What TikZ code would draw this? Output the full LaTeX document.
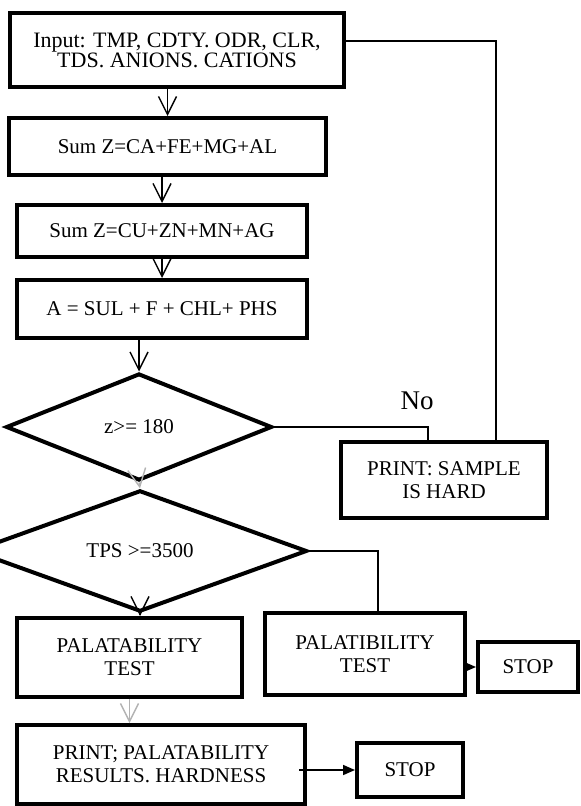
\documentclass[tikz,border=0pt]{standalone}
\usepackage{fontspec}
\setmainfont{Liberation Serif}
\usetikzlibrary{arrows.meta, positioning, shapes.geometric, calc}

\begin{document}
\begin{tikzpicture}[
  x=0.5pt, y=-0.5pt,
  box/.style={rectangle, draw=black, line width=2pt, fill=white, align=center,
              inner sep=2pt, font=\fontsize{10.5}{11.5}\selectfont},
  decision/.style={diamond, draw=black, line width=2pt, fill=white, inner sep=0pt,
              font=\fontsize{10.5}{12}\selectfont},
  arrow/.style={-{Straight Barb[length=9pt, width=9pt]}, line width=0.7pt},
  fadearrow/.style={arrow, draw=black!30},
  stoparrow/.style={-{Triangle[length=6pt, width=5pt]}, line width=0.8pt},
  link/.style={line width=0.7pt}
]
\clip (0,0) rectangle (580,806);
\node[box, minimum width=167pt, minimum height=37pt, font=\fontsize{11}{10}\selectfont] (input) at (177,50)
  {Input: TMP, CDTY. ODR, CLR,\\TDS. ANIONS. CATIONS};
\node[box, minimum width=158.5pt, minimum height=28.5pt] (sum1) at (167.5,146.5) {Sum Z=CA+FE+MG+AL};
\node[box, minimum width=145pt, minimum height=26pt] (sum2) at (162,231) {Sum Z=CU+ZN+MN+AG};
\node[box, minimum width=145pt, minimum height=29pt] (aeq) at (162,309) {A = SUL + F + CHL+ PHS};
\node[decision, minimum width=133pt, minimum height=53.5pt] (dec1) at (139,427) {z>= 180};
\node[box, minimum width=103pt, minimum height=38pt] (hard) at (444,480) {PRINT: SAMPLE\\IS HARD};
\node[decision, minimum width=167pt, minimum height=52.5pt] (dec2) at (140,551) {TPS >=3500};
\node[box, minimum width=112.5pt, minimum height=39.5pt] (pal1) at (129.5,657.5) {PALATABILITY\\TEST};
\node[box, minimum width=100pt, minimum height=41pt] (pal2) at (365,654) {PALATIBILITY\\TEST};
\node[box, minimum width=50pt, minimum height=25pt] (stop1) at (528,667) {STOP};
\node[box, minimum width=144pt, minimum height=39.5pt] (result) at (161,764.5)
  {PRINT; PALATABILITY\\RESULTS. HARDNESS};
\node[box, minimum width=53pt, minimum height=27pt] (stop2) at (410,770) {STOP};
\node[font=\fontsize{13.5}{14}\selectfont] (no) at (417,401) {No};

% main flow
\draw[arrow] (input.south -| sum1) -- (sum1.north);
\draw[arrow] (sum1.south -| sum2) -- (sum2.north);
\draw[arrow] (sum2) -- (aeq);
\draw[arrow] (aeq.south -| dec1) -- (dec1.north);
\draw[fadearrow] (dec1.south) -- (dec2.north);
\draw[arrow] (dec2.south) -- (dec2.south |- pal1.north);
\draw[fadearrow] (pal1.south) -- (pal1.south |- result.north);

% side branches
\draw[link] (dec1.east) -| ($(hard.north)+(-16,0)$);
\draw[link] ([yshift=4.5pt]input.east) -| ($(hard.north)+(52,0)$);
\draw[link] (dec2.east) -| ($(pal2.north)+(13,0)$);
\draw[stoparrow] (pal2.east |- stop1) -- (stop1.west);
\draw[stoparrow] ([xshift=-4pt]result.east |- stop2) -- (stop2.west);
\end{tikzpicture}
\end{document}
